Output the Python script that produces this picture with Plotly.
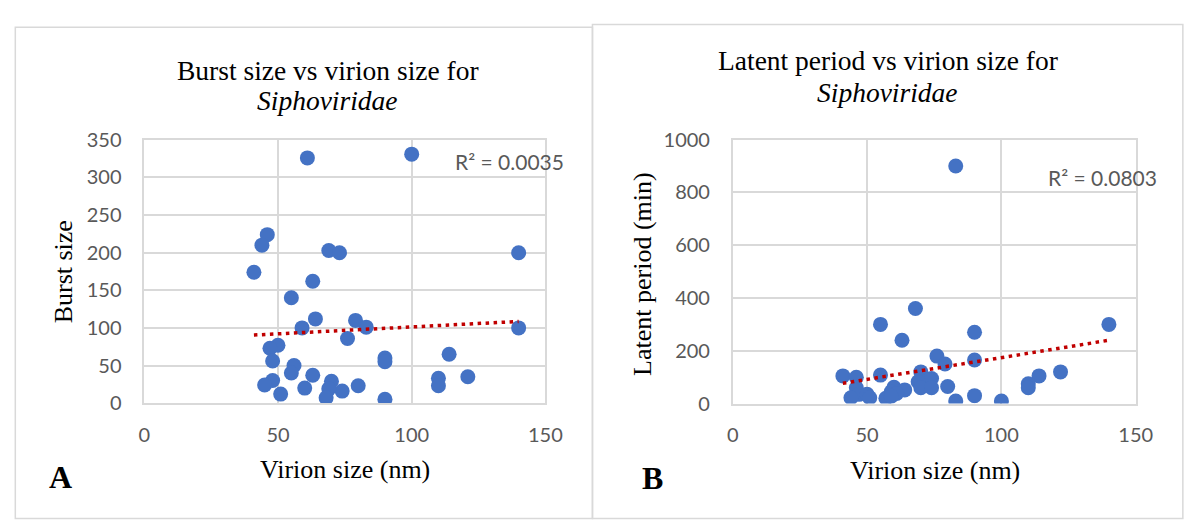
import plotly.graph_objects as go

# ---------------- data ----------------
burst_virion = [61, 100, 46, 44, 69, 73, 140, 41, 63, 55, 64, 79, 83, 59, 140, 76, 50, 47, 114, 90,
                90, 48, 56, 55, 63, 121, 110, 48, 70, 45, 80, 110, 60, 74, 69, 51, 68, 90]
burst_size = [326, 331, 224, 210, 203, 200, 200, 174, 162, 140, 112, 110, 101, 100, 100, 86, 77, 73, 65, 60,
              55, 56, 50, 40, 37, 35, 33, 30, 29, 24, 23, 23, 20, 16, 19, 12, 7, 5]

latent_virion = [83, 68, 55, 140, 90, 63, 76, 90, 79, 122, 70, 41, 46, 55, 114, 74, 73, 69, 110, 80,
                 110, 46, 60, 70, 74, 64, 59, 61, 47, 50, 44, 51, 57, 59, 90, 100, 83]
latent_period = [900, 360, 300, 300, 270, 240, 180, 165, 150, 120, 120, 105, 100, 108, 105, 95, 90, 83, 75, 65,
                 60, 60, 62, 60, 60, 52, 45, 38, 35, 35, 22, 22, 20, 28, 30, 10, 10]

# linear trendline values (Excel fit) read at the smallest and largest virion size
burst_trend = [90.5, 108.6]
latent_trend = [77, 240]

x_ticks = [0, 50, 100, 150]
burst_ticks = [0, 50, 100, 150, 200, 250, 300, 350]
latent_ticks = [0, 200, 400, 600, 800, 1000]
r2_texts = ["R² = 0.0035", "R² = 0.0803"]

W, H = 1192, 520
BLUE = "#4472C4"
RED = "#C00000"
GRID = "#D9D9D9"
TICKC = "#595959"
TICKFONT = dict(family="Lato", size=20, color=TICKC)
SERIF = "Liberation Serif, Times New Roman, serif"


def px(x):
    return x / W


def py(y):
    return 1 - y / H


fig = go.Figure()

# left chart
fig.add_trace(go.Scatter(x=burst_virion, y=burst_size, mode="markers",
                         marker=dict(color=BLUE, size=15, line=dict(width=0)),
                         xaxis="x", yaxis="y", showlegend=False))
fig.add_trace(go.Scatter(x=[min(burst_virion), max(burst_virion)], y=burst_trend, mode="lines",
                         line=dict(color=RED, width=3.5, dash="3.5px,4.5px"),
                         xaxis="x", yaxis="y", showlegend=False))

# right chart
fig.add_trace(go.Scatter(x=latent_virion, y=latent_period, mode="markers",
                         marker=dict(color=BLUE, size=15, line=dict(width=0)),
                         xaxis="x2", yaxis="y2", showlegend=False))
fig.add_trace(go.Scatter(x=[min(latent_virion), max(latent_virion)], y=latent_trend, mode="lines",
                         line=dict(color=RED, width=3.5, dash="3.5px,4.5px"),
                         xaxis="x2", yaxis="y2", showlegend=False))

common_axis = dict(showgrid=True, gridcolor=GRID, gridwidth=1.5, zeroline=False,
                   showline=True, linecolor=GRID, linewidth=1.5, mirror=True,
                   ticks="", tickfont=TICKFONT, fixedrange=True)

fig.update_layout(
    width=W, height=H, margin=dict(l=0, r=0, t=0, b=0),
    paper_bgcolor="white", plot_bgcolor="white",
    xaxis=dict(domain=[px(141), px(550)], range=[0, 150], tickvals=x_ticks,
               ticklabelstandoff=13, anchor="y", **common_axis),
    yaxis=dict(domain=[py(409), py(133)], range=[0, 350], tickvals=burst_ticks,
               ticklabelstandoff=17, anchor="x", **common_axis),
    xaxis2=dict(domain=[px(741), px(1152)], range=[0, 150], tickvals=x_ticks,
                ticklabelstandoff=13, anchor="y2", **common_axis),
    yaxis2=dict(domain=[py(409.5), py(132.7)], range=[0, 1000], tickvals=latent_ticks,
                ticklabelstandoff=17, anchor="x2", **common_axis),
)

# outer chart frames
fig.add_shape(type="rect", xref="paper", yref="paper",
              x0=px(9.5), x1=px(598), y0=py(530), y1=py(15),
              line=dict(color=GRID, width=1.5), fillcolor="rgba(0,0,0,0)", layer="below")
fig.add_shape(type="rect", xref="paper", yref="paper",
              x0=px(598), x1=px(1200), y0=py(530), y1=py(12),
              line=dict(color=GRID, width=1.5), fillcolor="rgba(0,0,0,0)", layer="below")

ann = []


def text(x, y, s, size, family=SERIF, color="black", angle=0, xanchor="center"):
    ann.append(dict(x=px(x), y=py(y), xref="paper", yref="paper", text=s, showarrow=False,
                    font=dict(family=family, size=size, color=color), textangle=angle,
                    xanchor=xanchor, yanchor="middle"))


# titles
text(328, 60, "Burst size vs virion size for", 27.5)
text(328, 92, "<i>Siphoviridae</i>", 27.5)
text(899, 50, "Latent period vs virion size for", 27.5)
text(899, 83, "<i>Siphoviridae</i>", 27.5)

# axis titles
text(346, 479, "Virion size (nm)", 26)
text(59, 271, "Burst size", 26, angle=-90)
text(947, 480, "Virion size (nm)", 26)
text(649, 273, "Latent period (min)", 26, angle=-90)

# R² labels
text(513, 156, r2_texts[0], 21, family="Lato", color=TICKC)
text(1118, 172, r2_texts[1], 21, family="Lato", color=TICKC)

# panel letters
text(56, 486, "<b>A</b>", 32)
text(659, 488, "<b>B</b>", 32)

fig.update_layout(annotations=ann)

fig.write_html("out.html",
               post_script="document.body.style.margin='0';document.body.style.padding='0';"
                           "document.body.style.overflow='hidden';")
